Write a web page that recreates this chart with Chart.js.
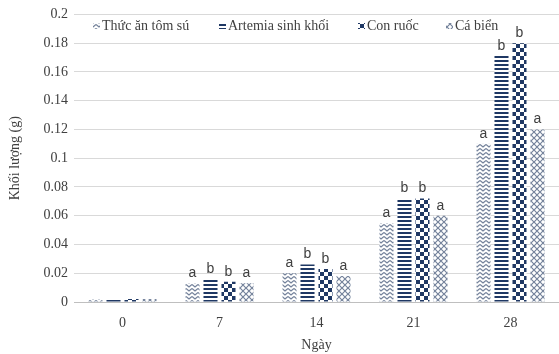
<!DOCTYPE html>
<html>
<head>
<meta charset="utf-8">
<script src="https://cdn.jsdelivr.net/npm/chart.js@4.4.0/dist/chart.umd.min.js"></script>
<style>
  html, body { margin: 0; padding: 0; background: #fff; }
  #wrap { width: 559px; height: 354px; }
</style>
</head>
<body>
<div id="wrap"><canvas id="weight-chart" width="559" height="354"></canvas></div>
<script>
// Khối lượng theo ngày
const days = ["0", "7", "14", "21", "28"];
const seriesNames = ["Thức ăn tôm sú", "Artemia sinh khối", "Con ruốc", "Cá biển"];
const thucAn = [0.002, 0.013, 0.02, 0.055, 0.11];
const artemia = [0.002, 0.016, 0.026, 0.072, 0.171];
const conRuoc = [0.002, 0.014, 0.023, 0.072, 0.18];
const caBien = [0.002, 0.013, 0.018, 0.06, 0.12];
const lettersThucAn = ["", "a", "a", "a", "a"];
const lettersArtemia = ["", "b", "b", "b", "b"];
const lettersConRuoc = ["", "b", "b", "b", "b"];
const lettersCaBien = ["", "a", "a", "a", "a"];
const yTicks = [0, 0.02, 0.04, 0.06, 0.08, 0.1, 0.12, 0.14, 0.16, 0.18, 0.2];

const navy = "#1f3864";
const grey = "#74829b";
const serif = "'Liberation Serif', 'Times New Roman', serif";

function makePattern(w, h, draw) {
  const c = document.createElement("canvas");
  c.width = w;
  c.height = h;
  const g = c.getContext("2d");
  g.fillStyle = "#fff";
  g.fillRect(0, 0, w, h);
  draw(g);
  return document.getElementById("weight-chart").getContext("2d").createPattern(c, "repeat");
}

const zigzag = makePattern(6, 4, function (g) {
  g.strokeStyle = grey;
  g.lineWidth = 1.3;
  g.beginPath();
  g.moveTo(0, 0.5);
  g.lineTo(3, 3);
  g.lineTo(6, 0.5);
  g.stroke();
});
const stripes = makePattern(4, 4, function (g) {
  g.fillStyle = navy;
  g.fillRect(0, 0, 4, 2);
});
const checker = makePattern(8, 8, function (g) {
  g.fillStyle = navy;
  g.fillRect(0, 0, 4, 4);
  g.fillRect(4, 4, 4, 4);
});
const lattice = makePattern(6, 6, function (g) {
  g.strokeStyle = grey;
  g.lineWidth = 1.2;
  g.beginPath();
  g.moveTo(0, 0);
  g.lineTo(6, 6);
  g.moveTo(6, 0);
  g.lineTo(0, 6);
  g.stroke();
});

const letters = [lettersThucAn, lettersArtemia, lettersConRuoc, lettersCaBien];

// letters above bars
const letterPlugin = {
  id: "letters",
  afterDatasetsDraw(chart) {
    const ctx = chart.ctx;
    ctx.save();
    ctx.font = "14px 'Liberation Sans', Arial, sans-serif";
    ctx.fillStyle = "#404040";
    ctx.textAlign = "center";
    ctx.textBaseline = "bottom";
    chart.data.datasets.forEach(function (ds, i) {
      chart.getDatasetMeta(i).data.forEach(function (bar, j) {
        const t = letters[i][j];
        if (t) ctx.fillText(t, bar.x, bar.y - 3);
      });
    });
    ctx.restore();
  },
};

// legend drawn inside the plot, like the original
const legendItems = [
  { x: 93, textX: 102 },
  { x: 219, textX: 228 },
  { x: 358, textX: 367 },
  { x: 446, textX: 455 },
];
const legendPlugin = {
  id: "insideLegend",
  afterDraw(chart) {
    const ctx = chart.ctx;
    ctx.save();
    ctx.font = "14px " + serif;
    ctx.textBaseline = "middle";
    chart.data.datasets.forEach(function (ds, i) {
      const it = legendItems[i];
      ctx.fillStyle = ds.backgroundColor;
      ctx.fillRect(it.x, 23, 7, 6);
      ctx.fillStyle = "#404040";
      ctx.fillText(ds.label, it.textX, 26);
    });
    ctx.restore();
  },
};

new Chart(document.getElementById("weight-chart"), {
  type: "bar",
  data: {
    labels: days,
    datasets: [
      { label: seriesNames[0], data: thucAn, backgroundColor: zigzag },
      { label: seriesNames[1], data: artemia, backgroundColor: stripes },
      { label: seriesNames[2], data: conRuoc, backgroundColor: checker },
      { label: seriesNames[3], data: caBien, backgroundColor: lattice },
    ],
  },
  options: {
    responsive: false,
    animation: false,
    layout: {
      padding: { top: 14, right: 0, left: 0, bottom: 0 },
    },
    datasets: {
      bar: {
        categoryPercentage: 0.742,
        barPercentage: 0.78,
      },
    },
    plugins: {
      legend: { display: false },
      tooltip: { enabled: false },
    },
    scales: {
      y: {
        min: 0,
        max: 0.2,
        afterFit: function (scale) {
          scale.width = 74;
        },
        afterBuildTicks: function (scale) {
          scale.ticks = yTicks.map(function (v) { return { value: v }; });
        },
        border: { display: false },
        grid: {
          color: "#d9d9d9",
          tickLength: 0,
        },
        ticks: {
          color: "#404040",
          padding: 6,
          font: { family: serif, size: 14 },
          callback: function (v) {
            return String(Number(v.toFixed(2)));
          },
        },
        title: {
          display: true,
          text: "Khối lượng (g)",
          color: "#404040",
          font: { family: serif, size: 14 },
          padding: { top: 7, bottom: 4 },
        },
      },
      x: {
        afterFit: function (scale) {
          scale.height = 52;
        },
        border: { color: "#bfbfbf" },
        grid: { display: false },
        ticks: {
          color: "#404040",
          padding: 5,
          font: { family: serif, size: 14 },
        },
        title: {
          display: true,
          text: "Ngày",
          color: "#404040",
          font: { family: serif, size: 14 },
          padding: { top: 9, bottom: 0 },
        },
      },
    },
  },
  plugins: [letterPlugin, legendPlugin],
});
</script>
</body>
</html>
